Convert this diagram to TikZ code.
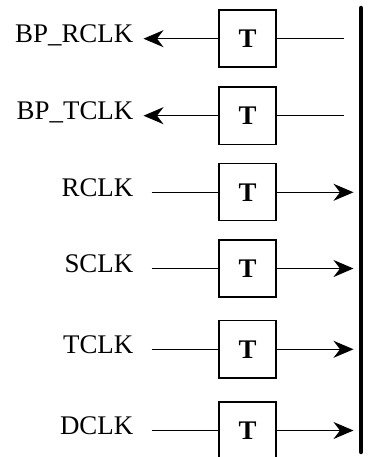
\documentclass[tikz,border=0pt]{standalone}
\usepackage{fontspec}
\setmainfont{Liberation Serif}
\usepackage{tikz}
\usetikzlibrary{arrows.meta}

\tikzset{
  clkbox/.style={draw, line width=1.4pt, minimum width=57bp, minimum height=57bp, inner sep=0pt, font=\fontsize{27}{30}\selectfont\bfseries},
  clklabel/.style={anchor=base east, inner sep=0pt, font=\fontsize{27}{30}\selectfont},
  wire/.style={line width=1.4pt},
  clkarrow/.style={line width=1.4pt, -{Stealth[length=20bp, width=17bp, inset=6.5bp]}},
  bus/.style={line width=4.5pt, line cap=round}
}

\begin{document}
\begin{tikzpicture}[x=1bp,y=-1bp]
       \useasboundingbox (0,0) rectangle (369,457);

       % backplane clocks, driven out to the left
       \node[clkbox] (tbprclk) at (247.5,38.7) {T};
       \node[clkbox] (tbptclk) at (247.5,115.7) {T};
       \node[clklabel] (bprclk) at (133.5,43) {BP\_RCLK};
       \node[clklabel] (bptclk) at (133.5,120) {BP\_TCLK};
       \coordinate (bprclkend) at (143.5,38.7);
       \coordinate (bptclkend) at (143.5,115.7);
       \coordinate (bprclkbus) at (344,38.7);
       \coordinate (bptclkbus) at (344,115.7);
       \draw[clkarrow] (tbprclk.west) -- (bprclkend);
       \draw[clkarrow] (tbptclk.west) -- (bptclkend);
       \draw[wire] (tbprclk.east) -- (bprclkbus);
       \draw[wire] (tbptclk.east) -- (bptclkbus);

       % local clocks, driven onto the bus
       \node[clkbox] (trclk) at (247.5,192.3) {T};
       \node[clkbox] (tsclk) at (247.5,268.5) {T};
       \node[clkbox] (ttclk) at (247.5,349.3) {T};
       \node[clkbox] (tdclk) at (247.5,430.5) {T};
       \node[clklabel] (rclk) at (133.5,196.7) {RCLK};
       \node[clklabel] (sclk) at (133.5,272.8) {SCLK};
       \node[clklabel] (tclk) at (133.5,353.6) {TCLK};
       \node[clklabel] (dclk) at (133.5,434.8) {DCLK};
       \coordinate (rclkstart) at (151.7,192.3);
       \coordinate (sclkstart) at (151.7,268.5);
       \coordinate (tclkstart) at (151.7,349.3);
       \coordinate (dclkstart) at (151.7,430.5);
       \coordinate (rclkbus) at (353.5,192.3);
       \coordinate (sclkbus) at (353.5,268.5);
       \coordinate (tclkbus) at (353.5,349.3);
       \coordinate (dclkbus) at (353.5,430.5);
       \draw[wire] (rclkstart) -- (trclk.west);
       \draw[wire] (sclkstart) -- (tsclk.west);
       \draw[wire] (tclkstart) -- (ttclk.west);
       \draw[wire] (dclkstart) -- (tdclk.west);
       \draw[clkarrow] (trclk.east) -- (rclkbus);
       \draw[clkarrow] (tsclk.east) -- (sclkbus);
       \draw[clkarrow] (ttclk.east) -- (tclkbus);
       \draw[clkarrow] (tdclk.east) -- (dclkbus);

       % clock bus
       \coordinate (bustop) at (361,8);
       \coordinate (busbottom) at (361,452);
       \draw[bus] (bustop) -- (busbottom);
\end{tikzpicture}
\end{document}
